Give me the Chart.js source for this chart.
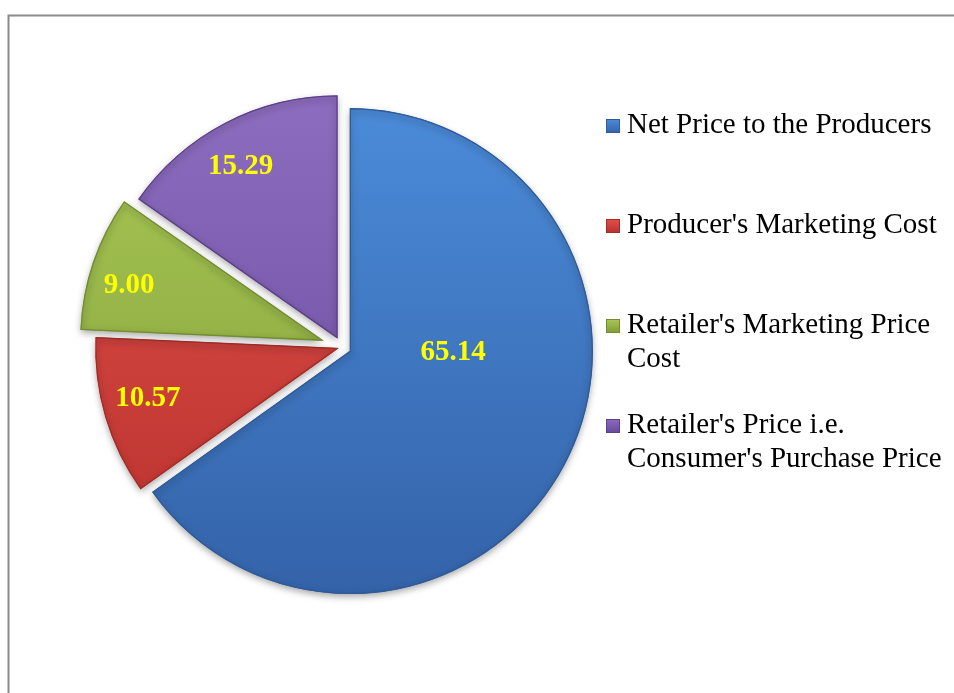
<!DOCTYPE html>
<html>
<head>
<meta charset="utf-8">
<script src="https://cdn.jsdelivr.net/npm/chart.js@4.4.1/dist/chart.umd.min.js"></script>
<style>
html,body{margin:0;padding:0;background:#ffffff;}
#wrap{position:relative;width:954px;height:693px;overflow:hidden;}
canvas{display:block;}
</style>
</head>
<body>
<div id="wrap"><canvas id="c" width="954" height="693"></canvas></div>
<script>
// ---- data ----
const categories = [
  "Net Price to the Producers",
  "Producer's Marketing Cost",
  "Retailer's Marketing Price Cost",
  "Retailer's Price i.e. Consumer's Purchase Price"
];
const values = [65.14, 10.57, 9.00, 15.29];
const valueLabels = ["65.14", "10.57", "9.00", "15.29"];

// ---- styles ----
const topColors    = ["#4b8bd9", "#e2514c", "#a9c957", "#8c6cbe"];
const bottomColors = ["#3463a9", "#b8302c", "#7f9b35", "#66489a"];
const edgeColors   = ["#2f5b99", "#a52b27", "#738d2f", "#5c4189"];
const explode = [9, 4, 20, 10];   // px each slice is pulled out
const pieRadius = 243;
const labelPlace = [              // radius fraction / angle fraction inside each slice
  {r: 0.424, a: 0.386},
  {r: 0.81,  a: 0.547},
  {r: 0.83,  a: 0.41},
  {r: 0.81,  a: 0.465}
];
const serif = "'Liberation Serif', 'Times New Roman', serif";

function sliceGradient(context) {
  const chart = context.chart;
  const area = chart.chartArea;
  const i = context.dataIndex;
  if (!area) return topColors[i];
  const cy = (area.top + area.bottom) / 2;
  const g = chart.ctx.createLinearGradient(0, cy - pieRadius, 0, cy + pieRadius);
  g.addColorStop(0, topColors[i]);
  g.addColorStop(1, bottomColors[i]);
  return g;
}

const framePlugin = {
  id: 'frame',
  beforeDraw(chart) {
    const ctx = chart.ctx;
    ctx.save();
    ctx.strokeStyle = '#8a8a8a';
    ctx.lineWidth = 2;
    ctx.strokeRect(8.5, 15.5, 1000, 1000);
    ctx.restore();
  }
};

const explodePlugin = {
  id: 'explode',
  afterDatasetsUpdate(chart) {
    const meta = chart.getDatasetMeta(0);
    meta.data.forEach((el, i) => {
      const half = (el.startAngle + el.endAngle) / 2;
      el.x += Math.cos(half) * explode[i];
      el.y += Math.sin(half) * explode[i];
    });
  },
  beforeDatasetsDraw(chart) {
    const ctx = chart.ctx;
    ctx.save();
    ctx.shadowColor = 'rgba(0,0,0,0.35)';
    ctx.shadowBlur = 7;
    ctx.shadowOffsetX = 0;
    ctx.shadowOffsetY = 3;
  },
  afterDatasetsDraw(chart) {
    const ctx = chart.ctx;
    ctx.restore();
    // value labels
    const meta = chart.getDatasetMeta(0);
    ctx.save();
    ctx.font = "bold 29px " + serif;
    ctx.fillStyle = '#ffff00';
    ctx.textAlign = 'center';
    ctx.textBaseline = 'middle';
    meta.data.forEach((el, i) => {
      const p = labelPlace[i];
      const th = el.startAngle + p.a * (el.endAngle - el.startAngle);
      const rr = p.r * el.outerRadius;
      ctx.fillText(valueLabels[i], el.x + Math.cos(th) * rr, el.y + Math.sin(th) * rr);
    });
    ctx.restore();
  }
};

function wrapText(ctx, text, maxW) {
  const words = text.split(' ');
  const lines = [];
  let cur = '';
  words.forEach(w => {
    const t = cur ? cur + ' ' + w : w;
    if (ctx.measureText(t).width > maxW && cur) { lines.push(cur); cur = w; }
    else cur = t;
  });
  if (cur) lines.push(cur);
  return lines;
}

const legendPlugin = {
  id: 'sideLegend',
  afterDraw(chart) {
    const ctx = chart.ctx;
    const labels = chart.data.labels;
    const markerX = 606, markerSize = 14, textX = 627;
    const firstBaseline = 133, rowStep = 100, lineStep = 34;
    ctx.save();
    ctx.font = "29px " + serif;
    ctx.textBaseline = 'alphabetic';
    ctx.textAlign = 'left';
    labels.forEach((lab, i) => {
      const base = firstBaseline + i * rowStep;
      const my = base - markerSize;
      const g = ctx.createLinearGradient(0, my, 0, my + markerSize);
      g.addColorStop(0, topColors[i]);
      g.addColorStop(1, bottomColors[i]);
      ctx.fillStyle = g;
      ctx.fillRect(markerX, my, markerSize, markerSize);
      ctx.strokeStyle = edgeColors[i];
      ctx.lineWidth = 1;
      ctx.strokeRect(markerX + 0.5, my + 0.5, markerSize - 1, markerSize - 1);
      ctx.fillStyle = '#000000';
      const lines = wrapText(ctx, lab, 954 - textX - 6);
      lines.forEach((ln, k) => ctx.fillText(ln, textX, base + k * lineStep));
    });
    ctx.restore();
  }
};

new Chart(document.getElementById('c'), {
  type: 'pie',
  data: {
    labels: categories,
    datasets: [{
      data: values,
      backgroundColor: sliceGradient,
      borderColor: edgeColors,
      borderWidth: 1,
      borderAlign: 'inner',
      radius: pieRadius,
      offset: 0
    }]
  },
  options: {
    responsive: false,
    animation: false,
    devicePixelRatio: 1,
    layout: { padding: { left: 41, right: 311, top: 1, bottom: 0 } },
    plugins: {
      legend: { display: false },
      tooltip: { enabled: false }
    }
  },
  plugins: [framePlugin, explodePlugin, legendPlugin]
});
</script>
</body>
</html>
